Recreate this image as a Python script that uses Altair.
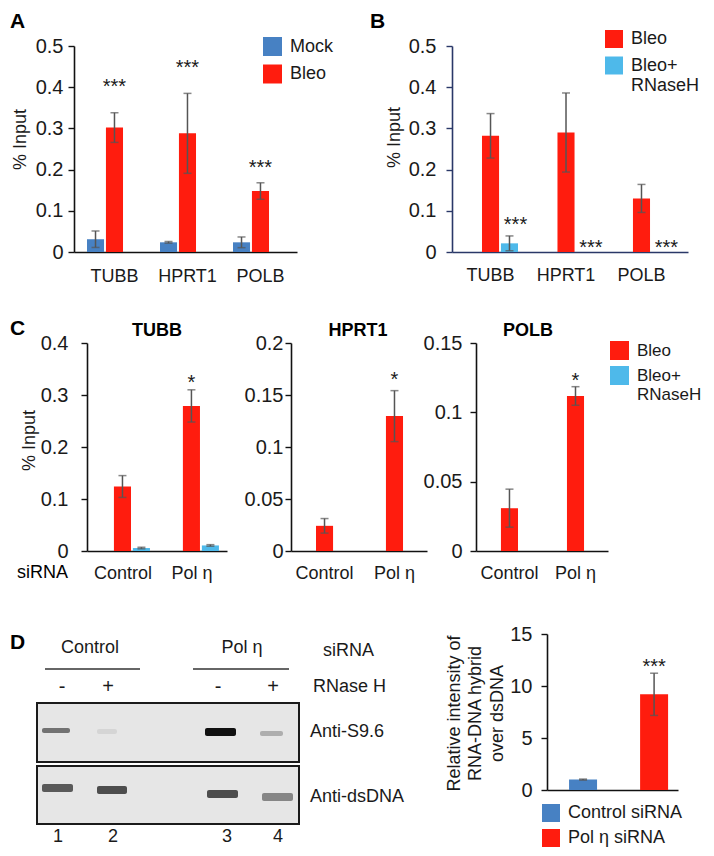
import altair as alt
import pandas as pd

FONT = "Liberation Sans"
RED = "#FF1C0E"
BLUE = "#4781C3"
LBLUE = "#4EB9EA"
ERRC = "#555555"
INK = "#1a1a1a"
NAVY = "#2A3868"

# ---------------- data ----------------
# Panel A
A_GENES = ["TUBB", "HPRT1", "POLB"]
A_SERIES = ["Mock", "Bleo"]
A_MOCK = [0.031, 0.0235, 0.0235]
A_MOCK_SD = [0.020, 0.002, 0.013]
A_BLEO = [0.302, 0.288, 0.148]
A_BLEO_SD = [0.036, 0.097, 0.020]
A_SIG = ["***", "***", "***"]
A_SIG_Y = [0.413, 0.458, 0.215]
A_TICKS = [0, 0.1, 0.2, 0.3, 0.4, 0.5]

# Panel B
B_SERIES = ["Bleo", "Bleo+ RNaseH"]
B_BLEO = [0.282, 0.290, 0.130]
B_BLEO_SD = [0.054, 0.096, 0.034]
B_RNH = [0.021, 0.0, 0.0]
B_RNH_SD = [0.018, 0.0, 0.0]
B_SIG = ["***", "***", "***"]
B_SIG_Y = [0.077, 0.022, 0.022]

# Panel C
C_SIRNA = ["Control", "Pol η"]
C_TUBB_BLEO = [0.124, 0.279]
C_TUBB_BLEO_SD = [0.021, 0.031]
C_TUBB_RNH = [0.0057, 0.0107]
C_TUBB_RNH_SD = [0.0015, 0.0015]
C_TUBB_SIG_Y = [None, 0.333]
C_TUBB_TICKS = [0, 0.1, 0.2, 0.3, 0.4]
C_HPRT1_BLEO = [0.0242, 0.1297]
C_HPRT1_BLEO_SD = [0.007, 0.0245]
C_HPRT1_RNH = [0.0, 0.0]
C_HPRT1_SIG_Y = [None, 0.169]
C_HPRT1_TICKS = [0, 0.05, 0.1, 0.15, 0.2]
C_POLB_BLEO = [0.0309, 0.1118]
C_POLB_BLEO_SD = [0.0137, 0.0067]
C_POLB_RNH = [0.0, 0.0]
C_POLB_SIG_Y = [None, 0.126]
C_POLB_TICKS = [0, 0.05, 0.1, 0.15]
C_SIG = ["", "*"]

# Panel D (quantification)
D_GROUPS = ["Control siRNA", "Pol η siRNA"]
D_VALUES = [1.0, 9.2]
D_SD = [0.05, 2.03]
D_SIG = ["", "***"]
D_SIG_Y = [None, 12.3]
D_TICKS = [0, 5, 10, 15]

# Panel D (blot) – lanes
LANE_LABELS = ["1", "2", "3", "4"]
LANE_LABEL_X = [22, 77, 191, 242]
RNASE_SIGNS = ["-", "+", "-", "+"]
RNASE_SIGN_X = [26, 72, 182, 237]
S96_X1 = [6, 61, 169, 224]
S96_X2 = [34, 81, 200, 247]
S96_Y1 = [94, 95, 94, 97]
S96_Y2 = [99, 100, 102, 102]
S96_INT = [0.5, 0.05, 1.0, 0.22]
DS_X1 = [6, 61, 171, 226]
DS_X2 = [37, 91, 202, 257]
DS_Y1 = [150, 152, 156, 159]
DS_Y2 = [158, 160, 164, 167]
DS_INT = [0.62, 0.68, 0.68, 0.4]


def frame(cats, series_list):
    rows = []
    for name, vals, sds, sigs, sigys in series_list:
        for c, v, sd, sg, sy in zip(cats, vals, sds, sigs, sigys):
            rows.append(dict(cat=c, series=name, value=v, sd=sd, lo=v - sd, hi=v + sd,
                             sig=sg, sigy=sy))
    return pd.DataFrame(rows)


def text_layer(text, x, y, size=18, weight="normal", align="left", baseline="alphabetic"):
    return alt.Chart(pd.DataFrame({"t": [text]})).mark_text(
        font=FONT, fontSize=size, fontWeight=weight, align=align, baseline=baseline, color="#000"
    ).encode(x=alt.value(x), y=alt.value(y), text="t:N")


def panel(df, cats, series, colors, w, h, ydom, yticks, xpad, ylab_pad, xlab_pad, axis_color,
          ytitle, ytitle_xy, legend, star_dx=0, offset=True, xlabels=True, extra=()):
    xscale = alt.Scale(domain=cats, paddingInner=xpad[0], paddingOuter=xpad[1], align=xpad[2])
    xaxis = alt.Axis(title=None, labelAngle=0, ticks=False, tickSize=0, labels=xlabels,
                     labelPadding=xlab_pad, labelFont=FONT, labelFontSize=18, labelColor=INK,
                     domainColor=axis_color, domainWidth=1.6, grid=False)
    X = alt.X("cat:N", sort=cats, scale=xscale, axis=xaxis)
    yaxis = alt.Axis(values=yticks, format="~f", grid=False, domainColor=axis_color,
                     domainWidth=1.6, tickColor=axis_color, tickSize=6, tickWidth=1.4,
                     labelFont=FONT, labelFontSize=20, labelColor=INK, labelPadding=ylab_pad,
                     labelFlush=False, labelOverlap=False,
                     title=ytitle, titleFont=FONT, titleFontSize=18, titleFontWeight="normal",
                     titleColor=INK, titleX=ytitle_xy[0], titleY=ytitle_xy[1],
                     titleBaseline="middle", titleAlign="center", titleAngle=270,
                     titleLineHeight=21.5)

    def Y(field):
        return alt.Y(f"{field}:Q", scale=alt.Scale(domain=ydom, nice=False, zero=True), axis=yaxis)

    enc = dict(x=X)
    if offset:
        enc["xOffset"] = alt.XOffset("series:N", sort=series,
                                     scale=alt.Scale(domain=series, paddingInner=0.1, paddingOuter=0))
    base = alt.Chart(df)
    bars = base.mark_bar(strokeWidth=0).encode(
        **enc, y=Y("value"),
        color=alt.Color("series:N", sort=series, scale=alt.Scale(domain=series, range=colors),
                        legend=legend))
    eb = base.transform_filter("datum.sd > 0")
    rule = eb.mark_rule(color=ERRC, strokeWidth=1.5).encode(**enc, y=Y("lo"), y2="hi:Q")
    cap_lo = eb.mark_tick(color=ERRC, orient="horizontal", size=8, thickness=1.5).encode(**enc, y=Y("lo"))
    cap_hi = eb.mark_tick(color=ERRC, orient="horizontal", size=8, thickness=1.5).encode(**enc, y=Y("hi"))
    stars = base.transform_filter("datum.sig != ''").mark_text(
        font=FONT, fontSize=20, color=INK, baseline="middle", dy=5, dx=star_dx
    ).encode(**enc, y=Y("sigy"), text="sig:N")
    return alt.layer(bars, rule, cap_lo, cap_hi, stars, *extra).properties(width=w, height=h)


def leg(x, y, size, row_pad, expr=None, font_size=18):
    kw = dict(orient="none", legendX=x, legendY=y, title=None, symbolType="square",
              symbolSize=size, symbolStrokeWidth=0, symbolOpacity=1, labelFont=FONT,
              labelFontSize=font_size, labelColor=INK, labelOffset=8, rowPadding=row_pad,
              padding=0, labelLimit=300)
    if expr:
        kw["labelExpr"] = expr
    return alt.Legend(**kw)


def spacer(w):
    return alt.Chart(pd.DataFrame({"v": [0.5]})).mark_point(opacity=0, size=1).encode(
        x=alt.X("v:Q", axis=None, scale=alt.Scale(domain=[0, 1])),
        y=alt.Y("v:Q", axis=None, scale=alt.Scale(domain=[0, 1]))).properties(width=w, height=10)


MULTI = "datum.label == 'Bleo+ RNaseH' ? ['Bleo+', 'RNaseH'] : datum.label"

# ---------------- Panel A ----------------
dfA = frame(A_GENES, [("Mock", A_MOCK, A_MOCK_SD, ["", "", ""], [None] * 3),
                      ("Bleo", A_BLEO, A_BLEO_SD, A_SIG, A_SIG_Y)])
chartA = panel(dfA, A_GENES, A_SERIES, [BLUE, RED], 223, 206, [0, 0.5], A_TICKS,
               (0.2466, 0.1507, 0.59), 5, 15, "#111", "% Input", (-54, 93),
               leg(189, -9, 361, 8.5), extra=[text_layer("A", -64, -18, 21, "bold")])

# ---------------- Panel B ----------------
dfB = frame(A_GENES, [("Bleo", B_BLEO, B_BLEO_SD, ["", "", ""], [None] * 3),
                      ("Bleo+ RNaseH", B_RNH, B_RNH_SD, B_SIG, B_SIG_Y)])
chartB = panel(dfB, A_GENES, B_SERIES, [RED, LBLUE], 236, 206, [0, 0.5], A_TICKS,
               (0.2715, 0.199, 0.367), 10, 14, NAVY, "% Input", (-58, 91),
               leg(153, -16, 324, 8.5, MULTI),
               star_dx=6, extra=[text_layer("B", -82, -18, 21, "bold")])

# ---------------- Panel C ----------------
dfC1 = frame(C_SIRNA, [("Bleo", C_TUBB_BLEO, C_TUBB_BLEO_SD, C_SIG, C_TUBB_SIG_Y),
                       ("Bleo+ RNaseH", C_TUBB_RNH, C_TUBB_RNH_SD, ["", ""], [None] * 2)])
dfC2 = frame(C_SIRNA, [("Bleo", C_HPRT1_BLEO, C_HPRT1_BLEO_SD, C_SIG, C_HPRT1_SIG_Y),
                       ("Bleo+ RNaseH", C_HPRT1_RNH, [0, 0], ["", ""], [None] * 2)])
dfC3 = frame(C_SIRNA, [("Bleo", C_POLB_BLEO, C_POLB_BLEO_SD, C_SIG, C_POLB_SIG_Y),
                       ("Bleo+ RNaseH", C_POLB_RNH, [0, 0], ["", ""], [None] * 2)])
CCOL = [RED, LBLUE]
chartC1 = panel(dfC1, C_SIRNA, B_SERIES, CCOL, 140, 208, [0, 0.4], C_TUBB_TICKS,
                (0.188, 0.109, 0.53), 13, 13, "#111", "% Input", (-58, 97), None,
                extra=[text_layer("C", -77, -8, 21, "bold"),
                       text_layer("TUBB", 70, -7, 18, "bold", "center"),
                       text_layer("siRNA", -70, 230, 18, "normal", "left", "middle")])
chartC2 = panel(dfC2, C_SIRNA, B_SERIES, CCOL, 136, 208, [0, 0.2], C_HPRT1_TICKS,
                (0.214, 0.079, 0.545), 2, 13, "#111", None, (0, 0), None,
                extra=[text_layer("HPRT1", 67, -7, 18, "bold", "center")])
chartC3 = panel(dfC3, C_SIRNA, B_SERIES, CCOL, 132, 208, [0, 0.15], C_POLB_TICKS,
                (0.1667, 0.083, 0.545), 8, 13, "#111", None, (0, 0),
                leg(134, -2, 361, 6, MULTI, 17),
                extra=[text_layer("POLB", 52, -7, 18, "bold", "center")])

# ---------------- Panel D: quantification ----------------
dfD = pd.DataFrame(dict(cat=D_GROUPS, series=D_GROUPS, value=D_VALUES, sd=D_SD,
                        lo=[v - s for v, s in zip(D_VALUES, D_SD)],
                        hi=[v + s for v, s in zip(D_VALUES, D_SD)],
                        sig=D_SIG, sigy=D_SIG_Y))
chartD = panel(dfD, D_GROUPS, D_GROUPS, [BLUE, RED], 131, 156, [0, 15], D_TICKS,
               (0.606, 0.225, 0.69), 9, 0, "#111",
               ["Relative intensity of", "RNA-DNA hybrid", "over dsDNA"], (-93, 79),
               leg(-5, 170, 324, 7), offset=False, xlabels=False)

# ---------------- Panel D: blot ----------------
BLOT_W, BLOT_H = 364, 210
bxs = alt.Scale(domain=[0, BLOT_W], nice=False, zero=False)
bys = alt.Scale(domain=[0, BLOT_H], nice=False, zero=False, reverse=True)


def BX(f):
    return alt.X(f"{f}:Q", scale=bxs, axis=None)


def BY(f):
    return alt.Y(f"{f}:Q", scale=bys, axis=None)


boxes = pd.DataFrame(dict(x1=[1, 1], x2=[263, 263], y1=[69, 132], y2=[128, 190]))
bands = pd.DataFrame(dict(
    x1=S96_X1 + DS_X1, x2=S96_X2 + DS_X2, y1=S96_Y1 + DS_Y1, y2=S96_Y2 + DS_Y2,
    intensity=S96_INT + DS_INT))
heads = pd.DataFrame(dict(label=["Control", "Pol η"], x=[54, 206], y=[14, 14]))
hlines = pd.DataFrame(dict(x1=[9, 157], x2=[104, 253], y=[35, 35]))
rightlab = pd.DataFrame(dict(label=["siRNA", "RNase H", "Anti-S9.6", "Anti-dsDNA"],
                             x=[287, 277, 274, 274], y=[17, 53, 98, 163]))
signs = pd.DataFrame(dict(label=RNASE_SIGNS, x=RNASE_SIGN_X, y=[53] * 4))
lanes = pd.DataFrame(dict(label=LANE_LABELS, x=LANE_LABEL_X, y=[203] * 4))

blot_layers = [
    alt.Chart(boxes).mark_rect(fill="#e6e6e6", stroke="#1b1b1b", strokeWidth=2).encode(
        x=BX("x1"), x2="x2:Q", y=BY("y1"), y2="y2:Q"),
    alt.Chart(bands).mark_rect(cornerRadius=2, opacity=0.95).encode(
        x=BX("x1"), x2="x2:Q", y=BY("y1"), y2="y2:Q",
        color=alt.Color("intensity:Q", scale=alt.Scale(domain=[0, 1], range=["#e0e0e0", "#050505"]),
                        legend=None)),
    alt.Chart(hlines).mark_rule(color="#333", strokeWidth=1.3).encode(
        x=BX("x1"), x2="x2:Q", y=BY("y")),
    alt.Chart(heads).mark_text(font=FONT, fontSize=18, color=INK, baseline="middle").encode(
        x=BX("x"), y=BY("y"), text="label:N"),
    alt.Chart(rightlab).mark_text(font=FONT, fontSize=18, color=INK, baseline="middle",
                                  align="left").encode(x=BX("x"), y=BY("y"), text="label:N"),
    alt.Chart(signs).mark_text(font=FONT, fontSize=20, color=INK, baseline="middle").encode(
        x=BX("x"), y=BY("y"), text="label:N"),
    alt.Chart(lanes).mark_text(font=FONT, fontSize=18, color=INK, baseline="middle").encode(
        x=BX("x"), y=BY("y"), text="label:N"),
    text_layer("D", -26, 15, 21, "bold"),
]
chartBlot = alt.layer(*blot_layers).properties(width=BLOT_W, height=BLOT_H)

# ---------------- layout ----------------
def row(*charts):
    return alt.hconcat(*charts, spacing=0, bounds="flush").resolve_scale(
        color="independent").resolve_legend(color="independent")


row1 = row(spacer(38), chartA, spacer(155), chartB)
row2 = row(spacer(51), chartC1, spacer(64), chartC2, spacer(49), chartC3)
row3 = row(chartBlot, spacer(147), chartD)

lower = alt.vconcat(row2, row3, spacing=42).resolve_scale(color="independent").resolve_legend(
    color="independent")
chart = alt.vconcat(row1, lower, spacing=33).resolve_scale(color="independent").resolve_legend(
    color="independent").properties(
    padding={"top": 3, "left": 2, "right": 0, "bottom": 0}).configure_view(stroke=None)

chart.save("out.html", embed_options={"renderer": "svg", "actions": False})
